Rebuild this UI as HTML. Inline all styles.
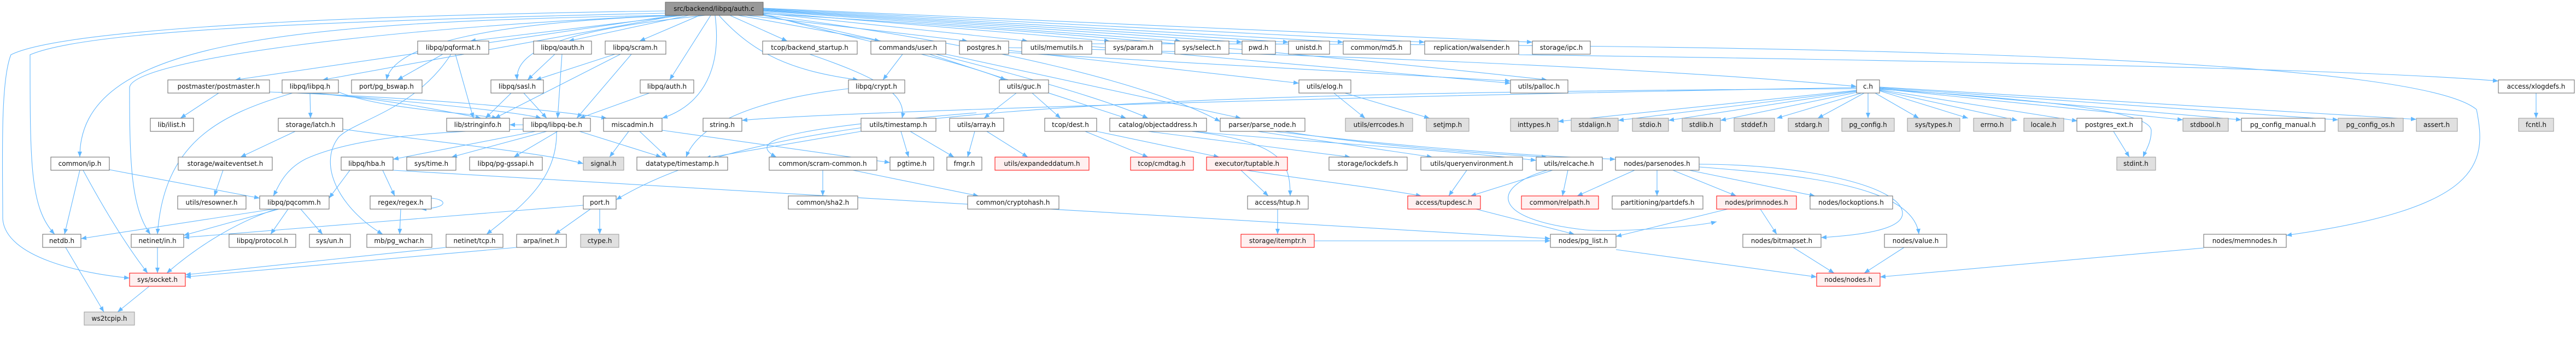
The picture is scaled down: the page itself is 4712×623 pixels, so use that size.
<!DOCTYPE html>
<html><head><meta charset="utf-8"><style>
html,body{margin:0;padding:0;background:#fff;}
svg{display:block;}
.e{fill:none;stroke:#63b8ff;stroke-width:1.1;marker-end:url(#a);}
text{font-family:"DejaVu Sans","Liberation Sans",sans-serif;font-size:12px;fill:#111;text-anchor:middle;}
.n{fill:#fff;stroke:#666;stroke-width:1;}
.g{fill:#e0e0e0;stroke:#999;stroke-width:1;}
.r{fill:#fff0f0;stroke:#f00;stroke-width:1;}
.root{fill:#999;stroke:#666;stroke-width:1;}
</style></head><body>
<svg width="4712" height="623" viewBox="0 0 4712 623" xmlns="http://www.w3.org/2000/svg">
<defs><marker id="a" markerUnits="userSpaceOnUse" markerWidth="10" markerHeight="8" refX="10" refY="4" orient="auto"><path d="M0,0 L10,4 L0,8 z" fill="#63b8ff"/></marker></defs>
<g>
<!-- root edges -->
<path class="e" d="M1217 20 C500 30,100 60,20 100 C0 150,5 300,5 400 C10 470,150 500,237 508"/>
<path class="e" d="M1217 24 C500 40,150 60,55 100 C55 300,55 380,100 428"/>
<path class="e" d="M1225 28 C500 40,145 80,146 287"/>
<path class="e" d="M1230 28 C700 50,240 110,237 160 C237 300,240 380,275 428"/>
<path class="e" d="M1235 28 L430 146"/>
<path class="e" d="M1240 28 L590 146"/>
<path class="e" d="M1245 28 C900 40,720 80,707 146"/>
<path class="e" d="M1250 28 L860 75"/>
<path class="e" d="M1260 28 L1040 75"/>
<path class="e" d="M1280 28 L1170 75"/>
<path class="e" d="M1290 28 C1080 50,940 80,946 146"/>
<path class="e" d="M1300 28 L1225 146"/>
<path class="e" d="M1308 28 C1320 120,1290 190,1211 216"/>
<path class="e" d="M1335 28 L1440 75"/>
<path class="e" d="M1350 28 L1610 75"/>
<path class="e" d="M1365 28 L1770 75"/>
<path class="e" d="M1315 28 C1380 100,1450 130,1570 146"/>
<path class="e" d="M1396 24 L1880 75"/>
<path class="e" d="M1396 22 L2030 75"/>
<path class="e" d="M1396 20 L2160 75"/>
<path class="e" d="M1396 19 L2272 77"/>
<path class="e" d="M1396 18 L2357 77"/>
<path class="e" d="M1396 17 L2457 77"/>
<path class="e" d="M1396 16 L2606 77"/>
<path class="e" d="M1396 15 L2803 77"/>
<path class="e" d="M1396 26 C1600 80,1750 110,1840 146"/>
<path class="e" d="M1396 25 C2000 60,2600 120,2830 146"/>
<path class="e" d="M1396 27 C1800 80,2100 150,2232 222"/>
<path class="e" d="M1396 28 C1700 90,2000 170,2100 216"/>
<!-- left cluster -->
<path class="e" d="M400 170 L330 216"/>
<path class="e" d="M567 170 L568 216"/>
<path class="e" d="M535 170 C400 210,300 260,288 428"/>
<path class="e" d="M567 170 C700 180,800 200,880 216"/>
<path class="e" d="M575 170 C800 190,950 205,990 216"/>
<path class="e" d="M493 168 C800 180,1000 200,1110 216"/>
<path class="e" d="M619 168 C700 200,850 205,910 216"/>
<path class="e" d="M540 240 L440 287"/>
<path class="e" d="M627 236 C800 260,1000 280,1067 299"/>
<path class="e" d="M146 311 L118 428"/>
<path class="e" d="M152 311 C200 400,240 460,270 499"/>
<path class="e" d="M200 310 L475 362"/>
<path class="e" d="M408 311 L392 358"/>
<path class="e" d="M500 382 L148 436"/>
<path class="e" d="M510 382 L336 430"/>
<path class="e" d="M505 382 C420 410,350 460,305 499"/>
<path class="e" d="M527 382 L495 428"/>
<path class="e" d="M550 382 L590 428"/>
<path class="e" d="M120 452 L190 570"/>
<path class="e" d="M273 523 L215 570"/>
<path class="e" d="M288 452 L288 499"/>
<!-- middle-left -->
<path class="e" d="M810 99 L727 146"/>
<path class="e" d="M833 99 L866 216"/>
<path class="e" d="M825 99 C760 200,650 220,620 250 C580 300,620 380,700 428"/>
<path class="e" d="M1015 99 L965 146"/>
<path class="e" d="M1028 99 L1020 216"/>
<path class="e" d="M1125 99 L980 146"/>
<path class="e" d="M1135 99 L905 216"/>
<path class="e" d="M1155 99 L1055 216"/>
<path class="e" d="M935 170 L888 216"/>
<path class="e" d="M958 170 L1000 216"/>
<path class="e" d="M1188 170 L1060 216"/>
<path class="e" d="M957 228 L932 228"/>
<path class="e" d="M980 240 L719 291"/>
<path class="e" d="M1000 240 L826 287"/>
<path class="e" d="M1020 240 L940 287"/>
<path class="e" d="M1060 240 L1210 287"/>
<path class="e" d="M1018 240 C1020 330,950 380,890 428"/>
<path class="e" d="M957 236 C800 240,650 250,560 290 C520 310,510 340,500 358"/>
<path class="e" d="M1150 240 L1115 287"/>
<path class="e" d="M1170 240 L1220 287"/>
<path class="e" d="M1211 238 L1628 297"/>
<path class="e" d="M640 311 L602 362"/>
<path class="e" d="M700 311 L722 358"/>
<path class="e" d="M719 311 L2836 436"/>
<path class="e" d="M789 362 C820 365,820 380,770 382"/>
<path class="e" d="M733 382 L731 428"/>
<path class="e" d="M1067 375 L336 434"/>
<path class="e" d="M1080 382 L1015 428"/>
<path class="e" d="M1097 382 L1097 428"/>
<path class="e" d="M945 452 L339 506"/>
<path class="e" d="M816 452 L339 502"/>
<!-- middle -->
<path class="e" d="M1481 99 C1600 140,1660 170,1650 216"/>
<path class="e" d="M1651 99 L1615 146"/>
<path class="e" d="M1700 99 L2060 216"/>
<path class="e" d="M1730 99 L2270 216"/>
<path class="e" d="M1552 162 C1400 180,1280 220,1255 287"/>
<path class="e" d="M1575 240 L1290 289"/>
<path class="e" d="M1648 240 L1662 287"/>
<path class="e" d="M1665 240 L1745 287"/>
<path class="e" d="M1783 240 L1770 287"/>
<path class="e" d="M1805 240 L1880 287"/>
<path class="e" d="M1505 311 L1505 358"/>
<path class="e" d="M1560 311 L1790 358"/>
<path class="e" d="M1859 170 L1800 216"/>
<path class="e" d="M1888 170 L1940 216"/>
<path class="e" d="M1786 206 C1500 230,1350 250,1420 287"/>
<path class="e" d="M1985 240 L2100 287"/>
<path class="e" d="M2006 240 L2230 287"/>
<path class="e" d="M2270 311 L2320 358"/>
<path class="e" d="M2337 382 L2337 428"/>
<path class="e" d="M2280 311 C2400 330,2500 340,2600 358"/>
<path class="e" d="M2100 240 L2470 287"/>
<path class="e" d="M2180 240 C2400 260,2600 270,2810 293"/>
<path class="e" d="M2180 240 C2350 260,2360 300,2360 358"/>
<path class="e" d="M2330 240 C2500 260,2700 280,2955 291"/>
<path class="e" d="M2350 240 C2500 265,2700 280,2830 287"/>
<path class="e" d="M2300 240 L2620 287"/>
<path class="e" d="M2683 311 L2650 358"/>
<path class="e" d="M2440 170 L2497 216"/>
<path class="e" d="M2460 170 L2615 216"/>
<path class="e" d="M1845 87 C2500 100,3100 130,3396 158"/>
<path class="e" d="M1845 92 L2376 152"/>
<path class="e" d="M1845 96 L2763 148"/>
<path class="e" d="M1997 80 C3000 80,4400 90,4530 200 C4550 300,4540 380,4182 430"/>
<path class="e" d="M1997 85 L2763 152"/>
<path class="e" d="M2778 100 C3500 110,4300 125,4570 148"/>
<path class="e" d="M2404 440 L2836 440"/>
<!-- relcache / parsenodes -->
<path class="e" d="M2840 311 L2690 358"/>
<path class="e" d="M2868 311 L2858 358"/>
<path class="e" d="M2830 311 C2730 340,2720 400,2900 420 C2950 425,3100 415,3140 405"/>
<path class="e" d="M2990 311 L2885 358"/>
<path class="e" d="M3031 311 L3031 358"/>
<path class="e" d="M3060 311 L3176 358"/>
<path class="e" d="M3090 311 L3320 358"/>
<path class="e" d="M3108 300 C3300 300,3480 340,3480 390 C3480 420,3400 430,3331 434"/>
<path class="e" d="M3108 305 C3300 320,3500 340,3510 428"/>
<path class="e" d="M3160 382 L2956 432"/>
<path class="e" d="M3220 382 L3250 428"/>
<path class="e" d="M2700 382 L2880 428"/>
<path class="e" d="M2956 456 L3323 506"/>
<path class="e" d="M3280 452 L3355 499"/>
<path class="e" d="M3483 452 L3410 499"/>
<path class="e" d="M4031 453 L3439 506"/>
<!-- c.h -->
<path class="e" d="M3396 162 C2000 170,1400 200,1127 365"/>
<path class="e" d="M3396 160 C2500 175,1500 205,1357 220"/>
<path class="e" d="M3396 165 L2850 222"/>
<path class="e" d="M3396 166 L2960 220"/>
<path class="e" d="M3396 167 L3052 220"/>
<path class="e" d="M3400 168 L3147 220"/>
<path class="e" d="M3405 170 L3250 216"/>
<path class="e" d="M3410 170 L3325 216"/>
<path class="e" d="M3417 170 L3417 216"/>
<path class="e" d="M3430 170 L3510 216"/>
<path class="e" d="M3438 166 L3600 216"/>
<path class="e" d="M3438 165 L3690 220"/>
<path class="e" d="M3438 164 L3800 221"/>
<path class="e" d="M3438 163 C3700 180,3940 200,3935 240 C3935 260,3925 275,3920 287"/>
<path class="e" d="M3438 162 L3993 219"/>
<path class="e" d="M3438 161 L4100 219"/>
<path class="e" d="M3438 160 L4277 219"/>
<path class="e" d="M3438 159 L4420 218"/>
<path class="e" d="M3866 240 L3895 287"/>
<path class="e" d="M4639 170 L4639 216"/>
</g>
<g>
<rect class="root" x="1217" y="4" width="179" height="24"/><text x="1306" y="20">src/backend/libpq/auth.c</text>
<rect class="n" x="307" y="146" width="186" height="24"/><text x="400" y="162">postmaster/postmaster.h</text>
<rect class="n" x="516" y="146" width="103" height="24"/><text x="567" y="162">libpq/libpq.h</text>
<rect class="n" x="275" y="216" width="79" height="24"/><text x="314" y="232">lib/ilist.h</text>
<rect class="n" x="509" y="216" width="118" height="24"/><text x="568" y="232">storage/latch.h</text>
<rect class="n" x="93" y="287" width="107" height="24"/><text x="146" y="303">common/ip.h</text>
<rect class="n" x="326" y="287" width="172" height="24"/><text x="412" y="303">storage/waiteventset.h</text>
<rect class="n" x="325" y="358" width="125" height="24"/><text x="387" y="374">utils/resowner.h</text>
<rect class="n" x="475" y="358" width="127" height="24"/><text x="538" y="374">libpq/pqcomm.h</text>
<rect class="n" x="78" y="428" width="70" height="24"/><text x="113" y="444">netdb.h</text>
<rect class="n" x="240" y="428" width="96" height="24"/><text x="288" y="444">netinet/in.h</text>
<rect class="n" x="419" y="428" width="122" height="24"/><text x="480" y="444">libpq/protocol.h</text>
<rect class="n" x="566" y="428" width="75" height="24"/><text x="603" y="444">sys/un.h</text>
<rect class="r" x="237" y="499" width="102" height="24"/><text x="288" y="515">sys/socket.h</text>
<rect class="g" x="154" y="570" width="92" height="24"/><text x="200" y="586">ws2tcpip.h</text>
<rect class="n" x="764" y="75" width="130" height="24"/><text x="829" y="91">libpq/pqformat.h</text>
<rect class="n" x="976" y="75" width="106" height="24"/><text x="1029" y="91">libpq/oauth.h</text>
<rect class="n" x="1107" y="75" width="111" height="24"/><text x="1162" y="91">libpq/scram.h</text>
<rect class="n" x="643" y="146" width="129" height="24"/><text x="707" y="162">port/pg_bswap.h</text>
<rect class="n" x="898" y="146" width="96" height="24"/><text x="946" y="162">libpq/sasl.h</text>
<rect class="n" x="1171" y="146" width="98" height="24"/><text x="1220" y="162">libpq/auth.h</text>
<rect class="n" x="817" y="216" width="115" height="24"/><text x="874" y="232">lib/stringinfo.h</text>
<rect class="n" x="957" y="216" width="123" height="24"/><text x="1018" y="232">libpq/libpq-be.h</text>
<rect class="n" x="1104" y="216" width="107" height="24"/><text x="1157" y="232">miscadmin.h</text>
<rect class="n" x="624" y="287" width="95" height="24"/><text x="671" y="303">libpq/hba.h</text>
<rect class="n" x="744" y="287" width="90" height="24"/><text x="789" y="303">sys/time.h</text>
<rect class="n" x="859" y="287" width="133" height="24"/><text x="925" y="303">libpq/pg-gssapi.h</text>
<rect class="g" x="1067" y="287" width="74" height="24"/><text x="1104" y="303">signal.h</text>
<rect class="n" x="1165" y="287" width="166" height="24"/><text x="1248" y="303">datatype/timestamp.h</text>
<rect class="n" x="677" y="358" width="112" height="24"/><text x="733" y="374">regex/regex.h</text>
<rect class="n" x="1067" y="358" width="60" height="24"/><text x="1097" y="374">port.h</text>
<rect class="n" x="671" y="428" width="119" height="24"/><text x="730" y="444">mb/pg_wchar.h</text>
<rect class="n" x="816" y="428" width="104" height="24"/><text x="868" y="444">netinet/tcp.h</text>
<rect class="n" x="945" y="428" width="91" height="24"/><text x="990" y="444">arpa/inet.h</text>
<rect class="g" x="1062" y="428" width="70" height="24"/><text x="1097" y="444">ctype.h</text>
<rect class="n" x="1395" y="75" width="173" height="24"/><text x="1481" y="91">tcop/backend_startup.h</text>
<rect class="n" x="1593" y="75" width="137" height="24"/><text x="1661" y="91">commands/user.h</text>
<rect class="n" x="1755" y="75" width="90" height="24"/><text x="1800" y="91">postgres.h</text>
<rect class="n" x="1552" y="146" width="103" height="24"/><text x="1603" y="162">libpq/crypt.h</text>
<rect class="n" x="1286" y="216" width="71" height="24"/><text x="1321" y="232">string.h</text>
<rect class="n" x="1575" y="216" width="137" height="24"/><text x="1643" y="232">utils/timestamp.h</text>
<rect class="n" x="1737" y="216" width="99" height="24"/><text x="1786" y="232">utils/array.h</text>
<rect class="n" x="1407" y="287" width="197" height="24"/><text x="1505" y="303">common/scram-common.h</text>
<rect class="n" x="1628" y="287" width="80" height="24"/><text x="1668" y="303">pgtime.h</text>
<rect class="n" x="1732" y="287" width="64" height="24"/><text x="1764" y="303">fmgr.h</text>
<rect class="n" x="1442" y="358" width="127" height="24"/><text x="1505" y="374">common/sha2.h</text>
<rect class="n" x="1770" y="358" width="167" height="24"/><text x="1853" y="374">common/cryptohash.h</text>
<rect class="n" x="1869" y="75" width="128" height="24"/><text x="1933" y="91">utils/memutils.h</text>
<rect class="n" x="2022" y="75" width="103" height="24"/><text x="2073" y="91">sys/param.h</text>
<rect class="n" x="2149" y="75" width="99" height="24"/><text x="2198" y="91">sys/select.h</text>
<rect class="n" x="2272" y="75" width="61" height="24"/><text x="2302" y="91">pwd.h</text>
<rect class="n" x="2357" y="75" width="75" height="24"/><text x="2394" y="91">unistd.h</text>
<rect class="n" x="1828" y="146" width="90" height="24"/><text x="1873" y="162">utils/guc.h</text>
<rect class="n" x="2376" y="146" width="95" height="24"/><text x="2423" y="162">utils/elog.h</text>
<rect class="n" x="1911" y="216" width="95" height="24"/><text x="1958" y="232">tcop/dest.h</text>
<rect class="n" x="2030" y="216" width="177" height="24"/><text x="2118" y="232">catalog/objectaddress.h</text>
<rect class="n" x="2232" y="216" width="155" height="24"/><text x="2309" y="232">parser/parse_node.h</text>
<rect class="r" x="1820" y="287" width="172" height="24"/><text x="1906" y="303">utils/expandeddatum.h</text>
<rect class="r" x="2068" y="287" width="115" height="24"/><text x="2125" y="303">tcop/cmdtag.h</text>
<rect class="r" x="2207" y="287" width="148" height="24"/><text x="2281" y="303">executor/tuptable.h</text>
<rect class="n" x="2282" y="358" width="111" height="24"/><text x="2337" y="374">access/htup.h</text>
<rect class="r" x="2270" y="428" width="134" height="24"/><text x="2337" y="444">storage/itemptr.h</text>
<rect class="n" x="2457" y="75" width="123" height="24"/><text x="2518" y="91">common/md5.h</text>
<rect class="n" x="2606" y="75" width="172" height="24"/><text x="2692" y="91">replication/walsender.h</text>
<rect class="n" x="2803" y="75" width="106" height="24"/><text x="2856" y="91">storage/ipc.h</text>
<rect class="n" x="2763" y="146" width="105" height="24"/><text x="2815" y="162">utils/palloc.h</text>
<rect class="g" x="2461" y="216" width="123" height="24"/><text x="2522" y="232">utils/errcodes.h</text>
<rect class="g" x="2609" y="216" width="78" height="24"/><text x="2648" y="232">setjmp.h</text>
<rect class="g" x="2763" y="216" width="87" height="24"/><text x="2806" y="232">inttypes.h</text>
<rect class="g" x="2874" y="216" width="86" height="24"/><text x="2917" y="232">stdalign.h</text>
<rect class="g" x="2986" y="216" width="66" height="24"/><text x="3019" y="232">stdio.h</text>
<rect class="n" x="2431" y="287" width="143" height="24"/><text x="2502" y="303">storage/lockdefs.h</text>
<rect class="n" x="2599" y="287" width="186" height="24"/><text x="2692" y="303">utils/queryenvironment.h</text>
<rect class="n" x="2810" y="287" width="121" height="24"/><text x="2870" y="303">utils/relcache.h</text>
<rect class="n" x="2955" y="287" width="153" height="24"/><text x="3031" y="303">nodes/parsenodes.h</text>
<rect class="r" x="2575" y="358" width="133" height="24"/><text x="2641" y="374">access/tupdesc.h</text>
<rect class="r" x="2783" y="358" width="141" height="24"/><text x="2853" y="374">common/relpath.h</text>
<rect class="n" x="2949" y="358" width="166" height="24"/><text x="3032" y="374">partitioning/partdefs.h</text>
<rect class="n" x="2836" y="428" width="120" height="24"/><text x="2896" y="444">nodes/pg_list.h</text>
<rect class="n" x="3396" y="146" width="42" height="24"/><text x="3417" y="162">c.h</text>
<rect class="g" x="3077" y="216" width="70" height="24"/><text x="3112" y="232">stdlib.h</text>
<rect class="g" x="3172" y="216" width="74" height="24"/><text x="3209" y="232">stddef.h</text>
<rect class="g" x="3271" y="216" width="74" height="24"/><text x="3308" y="232">stdarg.h</text>
<rect class="g" x="3369" y="216" width="96" height="24"/><text x="3417" y="232">pg_config.h</text>
<rect class="g" x="3489" y="216" width="96" height="24"/><text x="3537" y="232">sys/types.h</text>
<rect class="g" x="3610" y="216" width="68" height="24"/><text x="3644" y="232">errno.h</text>
<rect class="g" x="3702" y="216" width="73" height="24"/><text x="3738" y="232">locale.h</text>
<rect class="n" x="3799" y="216" width="119" height="24"/><text x="3858" y="232">postgres_ext.h</text>
<rect class="g" x="3993" y="216" width="83" height="24"/><text x="4034" y="232">stdbool.h</text>
<rect class="n" x="4100" y="216" width="153" height="24"/><text x="4176" y="232">pg_config_manual.h</text>
<rect class="g" x="4277" y="216" width="119" height="24"/><text x="4336" y="232">pg_config_os.h</text>
<rect class="g" x="4420" y="216" width="75" height="24"/><text x="4457" y="232">assert.h</text>
<rect class="n" x="4570" y="146" width="139" height="24"/><text x="4639" y="162">access/xlogdefs.h</text>
<rect class="g" x="4607" y="216" width="64" height="24"/><text x="4639" y="232">fcntl.h</text>
<rect class="g" x="3872" y="287" width="71" height="24"/><text x="3907" y="303">stdint.h</text>
<rect class="r" x="3140" y="358" width="146" height="24"/><text x="3213" y="374">nodes/primnodes.h</text>
<rect class="n" x="3311" y="358" width="151" height="24"/><text x="3386" y="374">nodes/lockoptions.h</text>
<rect class="n" x="3188" y="428" width="143" height="24"/><text x="3259" y="444">nodes/bitmapset.h</text>
<rect class="n" x="3447" y="428" width="114" height="24"/><text x="3504" y="444">nodes/value.h</text>
<rect class="r" x="3323" y="499" width="116" height="24"/><text x="3381" y="515">nodes/nodes.h</text>
<rect class="n" x="4031" y="428" width="151" height="24"/><text x="4106" y="444">nodes/memnodes.h</text>
</g>
</svg>
</body></html>
